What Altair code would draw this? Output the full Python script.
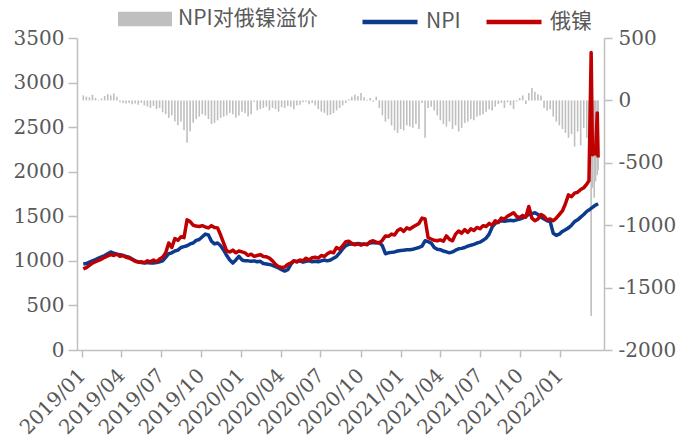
import altair as alt
import pandas as pd

# Weekly observations (Fridays) from 2019-01-04 to 2022-03-04, then daily prints in March 2022
weekly_dates = [d.strftime("%Y-%m-%d") for d in pd.date_range("2019-01-04", periods=166, freq="7D")]
march_dates = ["2022-03-09", "2022-03-14", "2022-03-17", "2022-03-21", "2022-03-24", "2022-03-28", "2022-03-30"]

# NPI price (left axis)
npi = [
    965, 970, 985, 1000, 1015, 1030, 1045, 1060, 1080, 1100,
    1085, 1075, 1070, 1060, 1050, 1040, 1020, 1000, 990, 980,
    975, 980, 975, 975, 980, 990, 1000, 1040, 1080, 1090,
    1110, 1120, 1150, 1160, 1170, 1190, 1200, 1230, 1240, 1270,
    1300, 1290, 1220, 1190, 1200, 1170, 1120, 1060, 1010, 975,
    1010, 1050, 1010, 1000, 1000, 995, 1000, 990, 995, 970,
    965, 960, 950, 935, 920, 900, 885, 900, 960, 1000,
    990, 1000, 985, 995, 1000, 990, 995, 990, 1000, 1010,
    1000, 1010, 1030, 1050, 1090, 1135, 1170, 1185, 1190, 1190,
    1195, 1190, 1185, 1190, 1200, 1205, 1200, 1205, 1170, 1080,
    1090, 1095, 1100, 1110, 1115, 1120, 1125, 1125, 1130, 1140,
    1150, 1165, 1225, 1215, 1200, 1150, 1130, 1125, 1110, 1100,
    1090, 1100, 1120, 1135, 1140, 1150, 1165, 1175, 1185, 1200,
    1210, 1230, 1255, 1300, 1380, 1420, 1440, 1450, 1445, 1450,
    1455, 1450, 1460, 1470, 1480, 1500, 1520, 1530, 1540, 1520,
    1490, 1470, 1450, 1440, 1310, 1285, 1300, 1330, 1350, 1370,
    1400, 1440, 1460, 1490, 1520, 1555,
    1570, 1590, 1600, 1615, 1625, 1635, 1640,
]

# Russian nickel price (left axis)
russian_ni = [
    910, 925, 950, 975, 990, 1005, 1020, 1040, 1055, 1070,
    1060, 1075, 1050, 1060, 1040, 1030, 1015, 995, 985, 990,
    980, 1000, 990, 1010, 990, 1020, 1040, 1090, 1200, 1150,
    1250, 1230, 1270, 1260, 1460, 1440, 1400, 1390, 1385, 1395,
    1380, 1370, 1395, 1375, 1370, 1290, 1200, 1110, 1100, 1120,
    1090, 1110, 1100, 1090, 1060, 1075, 1050, 1060, 1070, 1050,
    1045, 1030, 1000, 960, 935, 925, 930, 960, 975, 1000,
    990, 1010, 1000, 1030, 1010, 1035, 1040, 1030, 1060, 1050,
    1080, 1100, 1090, 1150, 1130, 1170, 1215, 1220, 1195, 1180,
    1190, 1175, 1190, 1180, 1215, 1225, 1210, 1200, 1230, 1280,
    1275, 1300, 1290, 1340, 1360, 1330, 1370, 1355, 1380, 1400,
    1420, 1480, 1470, 1260, 1245, 1230, 1225, 1235, 1220, 1280,
    1240, 1225, 1300, 1335, 1310, 1350, 1320, 1360, 1340, 1375,
    1360, 1395, 1385, 1420, 1400, 1450, 1430, 1480, 1470, 1500,
    1520, 1540, 1500, 1485, 1510, 1490, 1610, 1480, 1450, 1470,
    1520, 1500, 1460, 1470, 1450, 1480, 1520, 1560, 1640, 1740,
    1720, 1760, 1770, 1800, 1820, 1860,
    1900, 3337, 2190, 2250, 2200, 2660, 2160,
]

# NPI premium over Russian nickel (right axis)
premium = [
    40, 30, 25, 45, 20, 5, 15, 35, 50, 40,
    55, 30, -15, -20, -25, -20, -30, -25, -35, -20,
    -40, -50, -60, -45, -70, -60, -95, -110, -140, -120,
    -170, -200, -170, -240, -340, -250, -180, -150, -130, -110,
    -120, -150, -190, -180, -160, -140, -130, -120, -100, -110,
    -140, -120, -90, -100, -130, -110, -10, -80, -70, -60,
    -50, -80, -60, -70, -90, -55, -60, -45, -50, -70,
    -40, -35, -15, -10, -30, -20, -40, -70, -90, -100,
    -120, -115, -100, -80, -60, -40, -20, 10, 30, 45,
    35, 60, 25, 5, 20, -10, 30, -60, -120, -170,
    -150, -200, -240, -260, -230, -240, -200, -210, -220, -190,
    -230, -20, -300, -60, -50, -80, -120, -160, -190, -210,
    -170, -230, -200, -250, -220, -180, -170, -150, -160, -130,
    -120, -110, -90, -70, -80, -50, -30, -20, -60, -15,
    -40, -70, -10, 20, 40, -30, 60, 100, 70, 50,
    40, -60, -80, -70, -130, -170, -200, -230, -260, -300,
    -270, -370, -250, -360, -220, -300,
    -360, -1728, -700, -780, -650, -600, -560,
]

series_names = ["NPI对俄镍溢价", "NPI", "俄镍"]
series_colors = ["#bfbfbf", "#0c3b8e", "#c00000"]

df = pd.DataFrame({
    "date": weekly_dates + march_dates,
    "npi": npi,
    "rni": russian_ni,
    "prem": premium,
})

AXIS_GRAY = "#bfbfbf"
LABEL_GRAY = "#595959"
NUM_FONT = "DejaVu Serif"
CJK_FONT = "Noto Sans CJK SC"

quarter_ticks = [
    alt.DateTime(year=y, month=m, date=1, utc=True)
    for y in (2019, 2020, 2021, 2022)
    for m in (1, 4, 7, 10)
    if not (y == 2022 and m > 1)
]

x_enc = alt.X(
    "date:T",
    scale=alt.Scale(
        type="utc",
        domain=[alt.DateTime(year=2019, month=1, date=1, utc=True),
                alt.DateTime(year=2022, month=4, date=1, utc=True)],
    ),
    axis=alt.Axis(
        values=quarter_ticks, labelExpr="utcFormat(datum.value, '%Y/%m')", title="",
        labelAngle=-45, labelAlign="right", labelBaseline="middle",
        labelPadding=15, tickSize=7, labelFont=NUM_FONT, labelFontSize=20,
        labelColor=LABEL_GRAY, domainColor=AXIS_GRAY, tickColor=AXIS_GRAY,
        domainWidth=1.5, tickWidth=1.5, grid=False, labelOverlap=False,
    ),
)

base = alt.Chart(df)

bars = base.mark_bar(size=1.6).transform_calculate(
    lab_bar='"NPI对俄镍溢价"'
).encode(
    x=x_enc,
    y=alt.Y(
        "prem:Q",
        scale=alt.Scale(domain=[-2000, 500], nice=False),
        axis=alt.Axis(
            orient="right", values=[-2000, -1500, -1000, -500, 0, 500],
            labelExpr="datum.value + ''",
            title="", tickSize=8, labelPadding=6, labelFont=NUM_FONT, labelFontSize=20,
            labelColor=LABEL_GRAY, domainColor=AXIS_GRAY, tickColor=AXIS_GRAY,
            domainWidth=1.5, tickWidth=1.5, grid=False,
        ),
    ),
    color=alt.Color(
        "lab_bar:N",
        scale=alt.Scale(domain=series_names[:1], range=series_colors[:1]),
        legend=alt.Legend(
            title="", orient="none", legendX=41, legendY=-46, padding=0,
            symbolType="M-1,-0.27H1V0.27H-1Z", symbolSize=2916, symbolStrokeWidth=0,
            labelFont=CJK_FONT, labelFontSize=21, labelColor=LABEL_GRAY, labelOffset=6,
        ),
    ),
)

y_left = alt.Y(
    "value:Q",
    scale=alt.Scale(domain=[0, 3500], nice=False),
    axis=alt.Axis(
        orient="left", values=list(range(0, 3501, 500)), format="d", title="",
        tickSize=9, labelPadding=4, labelFont=NUM_FONT, labelFontSize=20,
        labelColor=LABEL_GRAY, domainColor=AXIS_GRAY, tickColor=AXIS_GRAY,
        domainWidth=1.5, tickWidth=1.5, grid=False,
    ),
)

stroke_scale = alt.Scale(domain=series_names[1:], range=series_colors[1:])
line_legend = alt.Legend(
    title="", orient="none", legendX=283, legendY=-46, padding=0, direction="horizontal",
    symbolType="stroke", symbolSize=3025, symbolStrokeWidth=4.5, columnPadding=16,
    labelFont=CJK_FONT, labelFontSize=21, labelColor=LABEL_GRAY, labelOffset=6,
)

npi_line = base.mark_line(strokeWidth=3.5, strokeJoin="round").transform_calculate(
    value="datum.npi", lab_line='"NPI"'
).encode(x=x_enc, y=y_left, stroke=alt.Stroke("lab_line:N", scale=stroke_scale, legend=line_legend))

ni_line = base.mark_line(strokeWidth=3.5, strokeJoin="round").transform_calculate(
    value="datum.rni", lab_line='"俄镍"'
).encode(x=x_enc, y=y_left, stroke=alt.Stroke("lab_line:N", scale=stroke_scale, legend=line_legend))

lines = alt.layer(npi_line, ni_line)

chart = alt.layer(bars, lines).resolve_scale(
    y="independent"
).properties(
    width=527,
    height=312,
    autosize=alt.AutoSizeParams(type="none"),
    padding={"left": 77, "top": 38, "right": 86, "bottom": 91},
    background="white",
).configure_view(strokeWidth=0)

chart.save("out.html", embed_options={"renderer": "svg", "actions": False})
